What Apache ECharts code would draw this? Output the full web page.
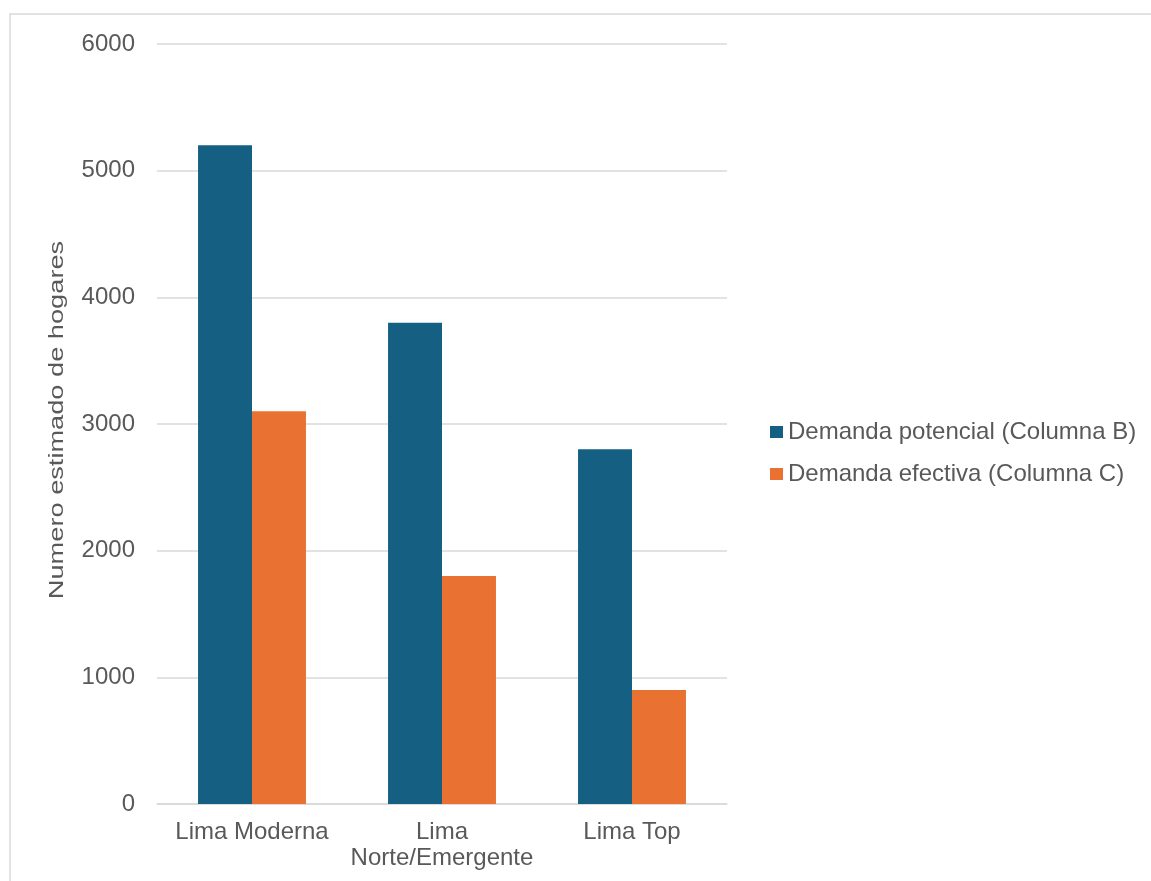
<!DOCTYPE html>
<html>
<head>
<meta charset="utf-8">
<script src="https://cdn.jsdelivr.net/npm/echarts@6/dist/echarts.min.js"></script>
<style>
  html, body { margin: 0; padding: 0; background: #ffffff; }
  #chart { width: 1151px; height: 881px; }
</style>
</head>
<body>
<div id="chart"></div>
<script>
// Segment names shown under each pair of columns
const categories = ['Lima Moderna', 'Lima\nNorte/Emergente', 'Lima Top'];
// Estimated households per segment
const demandaPotencial = [5200, 3800, 2800];
const demandaEfectiva = [3100, 1800, 900];
const seriesNames = ['Demanda potencial (Columna B)', 'Demanda efectiva (Columna C)'];
const axisTitle = 'Numero estimado de hogares';

const textColor = '#595959';
const font = 'Liberation Sans, Arial, sans-serif';

const chart = echarts.init(document.getElementById('chart'));
chart.setOption({
  backgroundColor: '#ffffff',
  animation: false,
  graphic: [
    {
      // chart frame
      type: 'rect',
      shape: { x: 10, y: 14, width: 1200, height: 900 },
      style: { fill: 'none', stroke: '#d9d9d9', lineWidth: 1.5 },
      silent: true
    },
    {
      // vertical axis title, drawn tall and narrow
      type: 'text',
      x: 57,
      y: 420,
      rotation: Math.PI / 2,
      scaleX: 1.36,
      style: {
        text: axisTitle,
        font: '20px ' + font,
        fill: textColor,
        align: 'center',
        verticalAlign: 'middle'
      },
      silent: true
    }
  ],
  grid: { left: 157, right: 424, top: 44, bottom: 77 },
  legend: {
    orient: 'vertical',
    left: 765,
    top: 415,
    icon: 'rect',
    itemWidth: 13,
    itemHeight: 12,
    itemGap: 18,
    textStyle: { fontFamily: font, fontSize: 24, lineHeight: 24, color: textColor },
    data: seriesNames
  },
  xAxis: {
    type: 'category',
    data: categories,
    axisTick: { show: false },
    axisLine: { show: true, lineStyle: { color: '#d9d9d9', width: 1.5 } },
    axisLabel: { fontFamily: font, fontSize: 24, color: textColor, margin: 15, lineHeight: 26, interval: 0 }
  },
  yAxis: {
    type: 'value',
    min: 0,
    max: 6000,
    interval: 1000,
    axisLine: { show: false },
    axisTick: { show: false },
    axisLabel: { fontFamily: font, fontSize: 24, color: textColor, margin: 22, formatter: v => String(v) },
    splitLine: { lineStyle: { color: '#d9d9d9', width: 1.5 } }
  },
  series: [
    {
      name: seriesNames[0],
      type: 'bar',
      data: demandaPotencial,
      barWidth: '28.4%',
      barGap: '0%',
      itemStyle: { color: '#156082' }
    },
    {
      name: seriesNames[1],
      type: 'bar',
      data: demandaEfectiva,
      barWidth: '28.4%',
      itemStyle: { color: '#E97132' }
    }
  ]
});
</script>
</body>
</html>
